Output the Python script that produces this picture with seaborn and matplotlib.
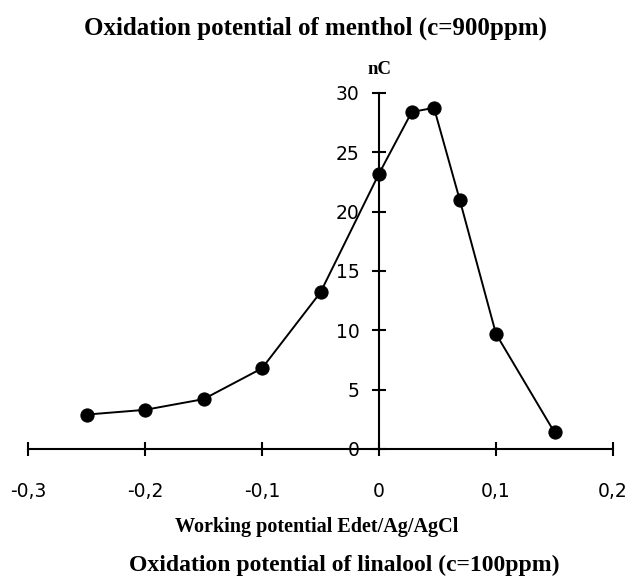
import matplotlib
matplotlib.use("Agg")
import matplotlib.pyplot as plt
import seaborn as sns
import pandas as pd
from matplotlib.ticker import FuncFormatter

potential = [-0.25, -0.20, -0.15, -0.10, -0.05, 0.0, 0.028, 0.047, 0.069, 0.10, 0.15]
charge_nC = [2.9, 3.3, 4.2, 6.8, 13.2, 23.2, 28.4, 28.75, 21.0, 9.7, 1.4]
x_ticks = [-0.3, -0.2, -0.1, 0.0, 0.1, 0.2]
y_ticks = [0, 5, 10, 15, 20, 25, 30]

title_text = "Oxidation potential of menthol (c=900ppm)"
bottom_text = "Oxidation potential of linalool (c=100ppm)"
xlabel_text = "Working potential Edet/Ag/AgCl"
ylabel_text = "nC"

df = pd.DataFrame({"E": potential, "Q": charge_nC})

sns.set_style("white")
plt.rcParams["font.family"] = ["DejaVu Sans"]
plt.rcParams["text.color"] = "black"

fig = plt.figure(figsize=(6.32, 5.83), dpi=100)
W, H = 632, 583
x0, x1 = 28, 613
y0, y1 = 449, 93
ax = fig.add_axes([x0 / W, 1 - y0 / H, (x1 - x0) / W, (y0 - y1) / H])

sns.lineplot(data=df, x="E", y="Q", ax=ax, color="black", linewidth=1.4,
             marker="o", markersize=9.5, markeredgecolor="black",
             markerfacecolor="black", clip_on=False)

ax.set_xlim(-0.3, 0.2)
ax.set_ylim(0, 30)
ax.set_xticks(x_ticks)
ax.set_yticks(y_ticks)

def comma_fmt(v, pos):
    if abs(v) < 1e-9:
        return "0"
    return f"{v:.1f}".replace(".", ",")

ax.xaxis.set_major_formatter(FuncFormatter(comma_fmt))
ax.yaxis.set_major_formatter(FuncFormatter(lambda v, p: f"{int(round(v))}"))

for s in ["top", "right"]:
    ax.spines[s].set_visible(False)
ax.spines["left"].set_position(("data", 0))
ax.spines["bottom"].set_position(("data", 0))
for s in ["left", "bottom"]:
    ax.spines[s].set_linewidth(1.5)
    ax.spines[s].set_color("black")

ax.tick_params(axis="x", bottom=True, direction="inout", length=10, width=1.5,
               pad=19, labelsize=13.5, colors="black")
ax.tick_params(axis="y", left=True, direction="inout", length=10, width=1.5,
               pad=9, labelsize=13.5, colors="black")
ax.set_xlabel("")
ax.set_ylabel("")
ax.patch.set_alpha(0)

serif = ["Liberation Serif", "DejaVu Serif"]
fig.text(0.5, 1 - 28 / H, title_text, ha="center", va="center", color="black",
         fontsize=18, fontweight="bold", family=serif)
fig.text(379 / W, 1 - 70 / H, ylabel_text, ha="center", va="center", color="black",
         fontsize=13.5, fontweight="bold", family=serif)
fig.text(317 / W, 1 - 527 / H, xlabel_text, ha="center", va="center", color="black",
         fontsize=14.5, fontweight="bold", family=serif)
fig.text(344 / W, 1 - 565 / H, bottom_text, ha="center", va="center", color="black",
         fontsize=17, fontweight="bold", family=serif)

fig.savefig("out.png", dpi=100, facecolor="white")
